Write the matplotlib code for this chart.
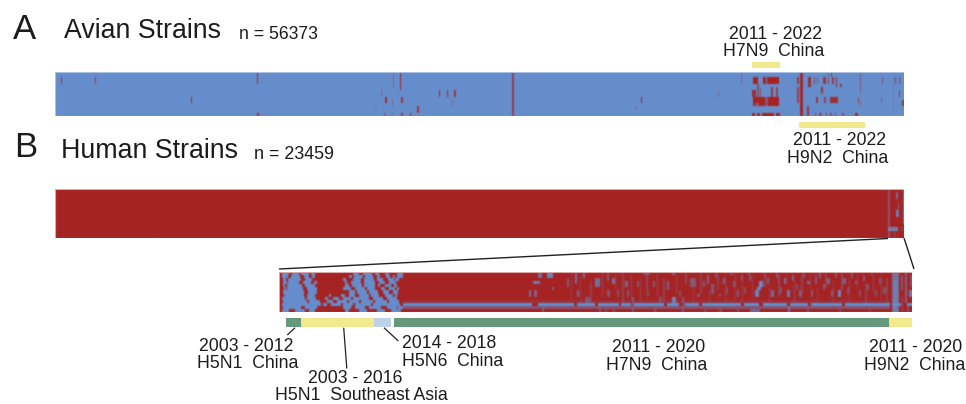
import numpy as np
import matplotlib
matplotlib.use("Agg")
import matplotlib.pyplot as plt
from matplotlib.colors import LinearSegmentedColormap
from matplotlib.patches import Rectangle

W, H = 966, 404
plt.rcParams['font.family'] = ['Liberation Sans', 'DejaVu Sans']

# --- data: marks as (first column, width, first row, last row, strength) ---
AVIAN_COLS, AVIAN_ROWS = 849, 14
AVIAN_MARKS = [
    (6,1,2,3,.8),(40,1,2,3,.8),(202,1,0,3,.9),(136,1,8,9,.9),(202,2,13,13,.9),
    (345,1,0,5,1),(338,1,1,4,.4),(330,2,8,9,.9),(346,2,8,9,.8),(326,1,6,7,.4),
    (384,1,6,7,.9),(392,1,6,7,.9),(399,2,6,7,.8),(337,1,9,10,.4),(397,1,9,10,.4),
    (329,1,13,13,.8),(337,1,13,13,.4),(346,2,13,13,.8),(355,1,13,13,.9),(362,2,11,12,.8),
    (320,1,11,11,.2),(457,2,0,13,.75),(586,1,8,9,1),(581,1,11,11,.3),(663,1,6,7,.3),
    (686,1,0,3,.4),(698,5,2,3,1),(705,1,5,7,.6),(708,3,2,3,1),(712,12,2,3,1),(702,2,4,7,.6),
    (716,2,5,7,.8),(721,2,5,7,.7),(697,4,6,7,.9),(698,26,8,10,1),(700,4,10,10,.5),(710,3,8,10,.5),
    (697,3,13,13,1),(702,3,13,13,.9),(707,12,13,13,1),(721,4,13,13,1),
    (742,2,2,3,.8),(742,2,5,7,.7),(742,2,8,9,.7),(745,3,0,13,.95),(753,3,2,4,.9),(752,2,11,13,.8),
    (759,1,2,3,.7),(762,1,2,3,.5),(768,3,2,3,.8),(773,1,2,3,.8),(777,2,2,3,.8),(781,1,2,4,.9),(785,2,4,4,.8),
    (766,2,5,6,.9),(761,2,8,9,.8),(769,2,8,9,.7),(775,8,8,9,.9),(776,1,0,1,.8),(773,1,1,2,.5),
    (805,1,0,6,.5),(803,1,8,9,.7),(805,1,9,10,.4),(826,1,8,9,.4),(827,1,2,3,.6),(840,1,2,3,.7),(844,1,2,3,.7),
    (844,1,6,7,.8),(847,2,9,10,.8),(760,1,13,13,.8),(764,3,13,13,.6),(771,1,13,13,.7),(775,2,13,13,.6),
    (780,1,13,13,.7),(787,2,13,13,.6),(800,3,13,13,.9),(838,1,2,13,.12),
]
HUMAN_COLS, HUMAN_ROWS = 849, 14
HUMAN_MARKS = [
    (100,1,13,13,.15),(833,2,0,13,.45),(841,2,1,2,.7),(843,1,4,7,.7),(841,2,6,7,.9),
    (833,10,11,11,.95),(848,1,0,9,.8),(846,2,11,11,.3),(839,1,12,13,.4),
]
DETAIL_COLS, DETAIL_ROWS = 633, 13
DETAIL_BLUE = [
    [(3,10),(13,20),(22,30),(32,36),(74,80),(84,93),(96,100),(106,110),(118,124)],
    [(3,9),(12,21),(25,30),(33,36),(70,73),(75,84),(86,94),(98,101),(107,111),(114,116),(118,124)],
    [(4,7),(9,22),(26,33),(64,67),(74,82),(85,95),(98,104),(109,115),(116,120)],
    [(4,8),(9,20),(24,32),(35,38),(66,68),(72,82),(85,96),(100,106),(110,117)],
    [(4,6),(8,23),(26,36),(66,70),(73,83),(85,96),(99,101),(106,112),(115,118)],
    [(5,7),(8,24),(28,38),(64,72),(76,86),(88,96),(102,106),(110,116),(118,120)],
    [(4,25),(29,38),(70,76),(78,88),(90,99),(104,110),(114,119)],
    [(5,25),(28,36),(50,52),(62,66),(70,76),(80,90),(92,100),(106,114),(116,118)],
    [(3,26),(28,37),(46,49),(54,60),(64,72),(74,90),(94,104),(108,118)],
    [(4,28),(30,41),(48,54),(58,68),(70,80),(82,94),(96,108),(110,120)],
    [(3,42),(44,48),(52,62),(64,74),(76,92),(94,121),(124,253),(259,295),(298,316),(319,340),
     (342,352),(355,385),(388,400),(406,420),(423,462),(465,480),(484,508),(511,529),(532,563),(566,611),(613,622),(628,633)],
    [(4,22),(26,38),(64,72),(76,86),(90,102),(108,118),(119,124)],
    [(3,10),(16,26),(30,36),(66,70),(80,88),(98,106),(112,122)],
]
DETAIL_STREAKS = [
    (124,487,9,9,.12),(124,487,11,11,.45),
    (259,4,0,1,.7),(268,6,0,1,.9),(254,7,3,3,.8),(273,2,5,5,.6),(250,2,6,7,.7),(255,3,6,7,.6),(263,2,11,12,.6),
    (288,2,2,4,.5),(296,2,0,3,.7),(298,2,6,7,.6),(304,2,0,1,.7),(306,5,8,9,.5),(316,5,2,4,.7),(328,2,0,2,.5),
    (333,3,2,3,.7),(328,3,6,7,.5),(346,3,3,4,.6),(338,2,6,7,.4),(348,2,6,7,.5),(364,7,0,0,.5),(374,2,3,4,.5),
    (388,2,3,5,.6),(393,3,0,0,.6),(393,4,8,9,.9),(358,2,3,4,.5),(411,6,2,4,.5),(424,2,3,4,.5),(320,2,11,12,.5),
    (326,2,11,12,.4),(334,2,11,12,.4),(353,2,8,12,.5),(375,2,11,12,.5),(403,2,8,12,.5),(380,3,8,9,.4),(368,2,6,7,.4),
    (400,2,6,7,.4),(418,3,7,7,.5),(428,2,1,3,.6),(432,3,4,6,.5),(436,2,0,1,.5),(440,2,7,7,.5),(444,3,2,3,.6),
    (447,2,5,6,.4),(451,3,0,0,.5),(454,3,3,4,.5),(458,2,6,7,.5),(462,2,1,2,.5),(465,2,5,6,.4),(469,2,0,0,.6),
    (471,10,12,12,.6),(480,4,3,4,1),(478,4,5,5,1),(476,4,6,7,.9),(470,2,1,2,.5),(488,2,2,3,.6),(492,3,6,7,.7),
    (497,2,0,1,.5),(501,2,5,6,.4),(505,3,2,3,.7),(508,3,6,7,.8),(509,2,11,12,.8),(513,2,1,2,.6),(517,2,4,5,.4),
    (520,3,6,7,.6),(524,2,0,1,.5),(528,3,3,3,.7),(532,2,6,7,.5),(536,2,1,3,.5),(540,2,0,1,.6),(544,2,4,5,.5),
    (548,3,2,3,.6),(552,2,6,7,.5),(559,3,6,7,.95),(556,2,0,1,.5),(564,3,2,3,.6),(568,2,5,6,.4),(572,2,0,1,.5),
    (576,3,3,3,.6),(580,2,6,7,.4),(584,2,1,2,.5),(588,2,4,5,.5),(592,2,0,0,.4),(596,2,6,7,.4),(600,2,2,3,.5),
    (604,3,5,6,.4),(425,2,11,12,.4),(440,3,12,12,.4),(458,2,11,12,.4),(528,2,12,12,.4),(560,2,11,12,.4),(590,2,12,12,.3),
    # fainter long streaks across the H7N9 block
    (292,1,0,8,.3),(301,1,1,9,.3),(311,2,3,9,.3),(323,1,0,7,.35),(336,1,1,5,.3),(343,2,0,9,.3),(352,1,1,8,.35),
    (361,1,2,9,.3),(367,2,1,5,.35),(378,1,0,7,.3),(384,2,2,9,.3),(397,1,1,6,.35),(406,2,0,3,.35),(414,1,5,9,.3),
    (421,2,0,6,.3),(430,1,6,9,.3),(438,2,1,5,.3),(446,1,0,9,.3),(456,1,0,8,.35),(463,1,3,9,.3),(473,1,1,8,.3),
    (485,2,0,4,.35),(490,1,5,9,.3),(499,2,1,7,.35),(507,1,0,3,.3),(515,1,3,9,.35),(522,2,1,6,.3),(531,1,0,5,.3),
    (538,1,5,9,.3),(546,2,0,4,.3),(554,1,3,9,.3),(562,2,0,5,.35),(570,1,2,9,.3),(578,1,0,5,.3),(586,2,4,9,.3),
    (594,1,1,6,.35),(602,1,0,8,.3),(607,2,2,9,.3),
    (613,7,0,12,.75),(615,3,3,12,.9),(622,2,1,5,.5),(626,2,0,9,.6),(630,3,6,7,.8),(631,2,1,4,.4),(623,1,8,12,.5),(628,2,11,12,.4),
]

SEGMENT_STARTS = [6.7, 22.3, 95.3, 115.0, 610.3]
SEGMENT_ENDS = [22.3, 95.3, 111.7, 610.3, 632.7]
SEGMENT_COLORS = ['#66997B', '#F1E98E', '#BED2E8', '#66997B', '#F1E98E']
AVIAN_TAGS = [(696.7, 725.0), (743.7, 809.7)]

BLUE, RED = '#658DCB', '#A62323'
cmap = LinearSegmentedColormap.from_list('mut', [BLUE, RED])


def px_axes(x0, y0, x1, y1):
    ax = fig.add_axes([x0 / W, 1 - y1 / H, (x1 - x0) / W, (y1 - y0) / H])
    ax.axis('off')
    return ax


def soften(m, kx, rows_up=3):
    """Scan softness of the printed figure: taller rows, then a small kernel."""
    u = np.repeat(m, rows_up, axis=0)
    ky = np.array([1, 2, 1]) / 4
    p = np.pad(u, 1, mode='edge')
    p = np.apply_along_axis(lambda v: np.convolve(v, kx, mode='same'), 1, p)
    p = np.apply_along_axis(lambda v: np.convolve(v, ky, mode='same'), 0, p)
    return p[1:-1, 1:-1]


def heat(ax, m, edge, kx=(.2, .6, .2)):
    ax.imshow(soften(m, np.array(kx)), aspect='auto', cmap=cmap, vmin=0, vmax=1, interpolation='nearest')
    ax.add_patch(Rectangle((0, 0), 1, 1, transform=ax.transAxes, fill=False,
                           ec=edge, lw=0.8, clip_on=True))


fig = plt.figure(figsize=(W / 100, H / 100), dpi=100)

axA = px_axes(55, 72, 904, 116.3)
mA = np.zeros((AVIAN_ROWS, AVIAN_COLS))
for c, w, r0, r1, s in AVIAN_MARKS:
    mA[r0:r1 + 1, c:c + w] = s
heat(axA, mA, '#A9C0E4')

axB = px_axes(55, 189.3, 904, 238.3)
mB = np.ones((HUMAN_ROWS, HUMAN_COLS))
for c, w, r0, r1, s in HUMAN_MARKS:
    mB[r0:r1 + 1, c:c + w] = 1 - s
heat(axB, mB, '#D9A9A9')

axD = px_axes(279, 271.7, 912, 311.7)
mD = np.ones((DETAIL_ROWS, DETAIL_COLS))
for c, w, r0, r1, s in DETAIL_STREAKS:
    mD[r0:r1 + 1, c:c + w] = 1 - s
for r, spans in enumerate(DETAIL_BLUE):
    for a, b in spans:
        mD[r, a:b] = 0.0
heat(axD, mD, '#D9A9A9', kx=(.25, .5, .25))

axS = px_axes(279, 317.7, 912, 327)
axS.set_xlim(0, DETAIL_COLS)
axS.set_ylim(0, 1)
axS.barh(0.5, np.array(SEGMENT_ENDS) - np.array(SEGMENT_STARTS), left=SEGMENT_STARTS,
         height=1, color=SEGMENT_COLORS, linewidth=0)

for (a, b), (y0, y1) in zip(AVIAN_TAGS, [(61.7, 68), (121.7, 128)]):
    axT = px_axes(55, y0, 904, y1)
    axT.set_xlim(0, AVIAN_COLS)
    axT.set_ylim(0, 1)
    axT.barh(0.5, b - a, left=a, height=1, color='#F1E98E', linewidth=0)

ov = fig.add_axes([0, 0, 1, 1], facecolor='none')
ov.set_xlim(0, W)
ov.set_ylim(H, 0)
ov.axis('off')

for xs, ys, lw in [((279, 888), (269, 238.5), 1.0), ((904, 914), (238, 269), 1.0),
                   ((295, 287.3), (327.7, 335), .9), ((343.7, 346.8), (327.7, 368.5), .9),
                   ((384, 398.3), (327.7, 341), .9)]:
    ov.plot(xs, ys, color='#222222', lw=lw, solid_capstyle='butt')


def T(x, y, s, size, ha='center'):
    ov.text(x, y, s, fontsize=size, ha=ha, va='baseline', color='#1c1c1c')


T(13, 39.3, 'A', 25, 'left')
T(64.5, 38.3, 'Avian Strains', 19.3, 'left')
T(239, 39, 'n = 56373', 12.7, 'left')
T(14, 157, 'B', 25, 'left')
T(61, 158, 'Human Strains', 19.3, 'left')
T(254, 159, 'n = 23459', 12.9, 'left')
T(775.7, 39, '2011 - 2022', 12.7)
T(774, 56, 'H7N9  China', 12.7)
T(839.7, 145, '2011 - 2022', 12.7)
T(838, 162.7, 'H9N2  China', 12.7)
T(246.5, 351, '2003 - 2012', 12.7)
T(247.5, 368, 'H5N1  China', 12.7)
T(355, 383, '2003 - 2016', 12.7)
T(361, 400, 'H5N1  Southeast Asia', 12.7)
T(402, 348, '2014 - 2018', 12.7, 'left')
T(402, 366, 'H5N6  China', 12.7, 'left')
T(659, 351.7, '2011 - 2020', 12.7)
T(657, 370, 'H7N9  China', 12.7)
T(915.5, 351.7, '2011 - 2020', 12.7)
T(915, 370, 'H9N2  China', 12.7)

fig.savefig('out.png', dpi=100)
